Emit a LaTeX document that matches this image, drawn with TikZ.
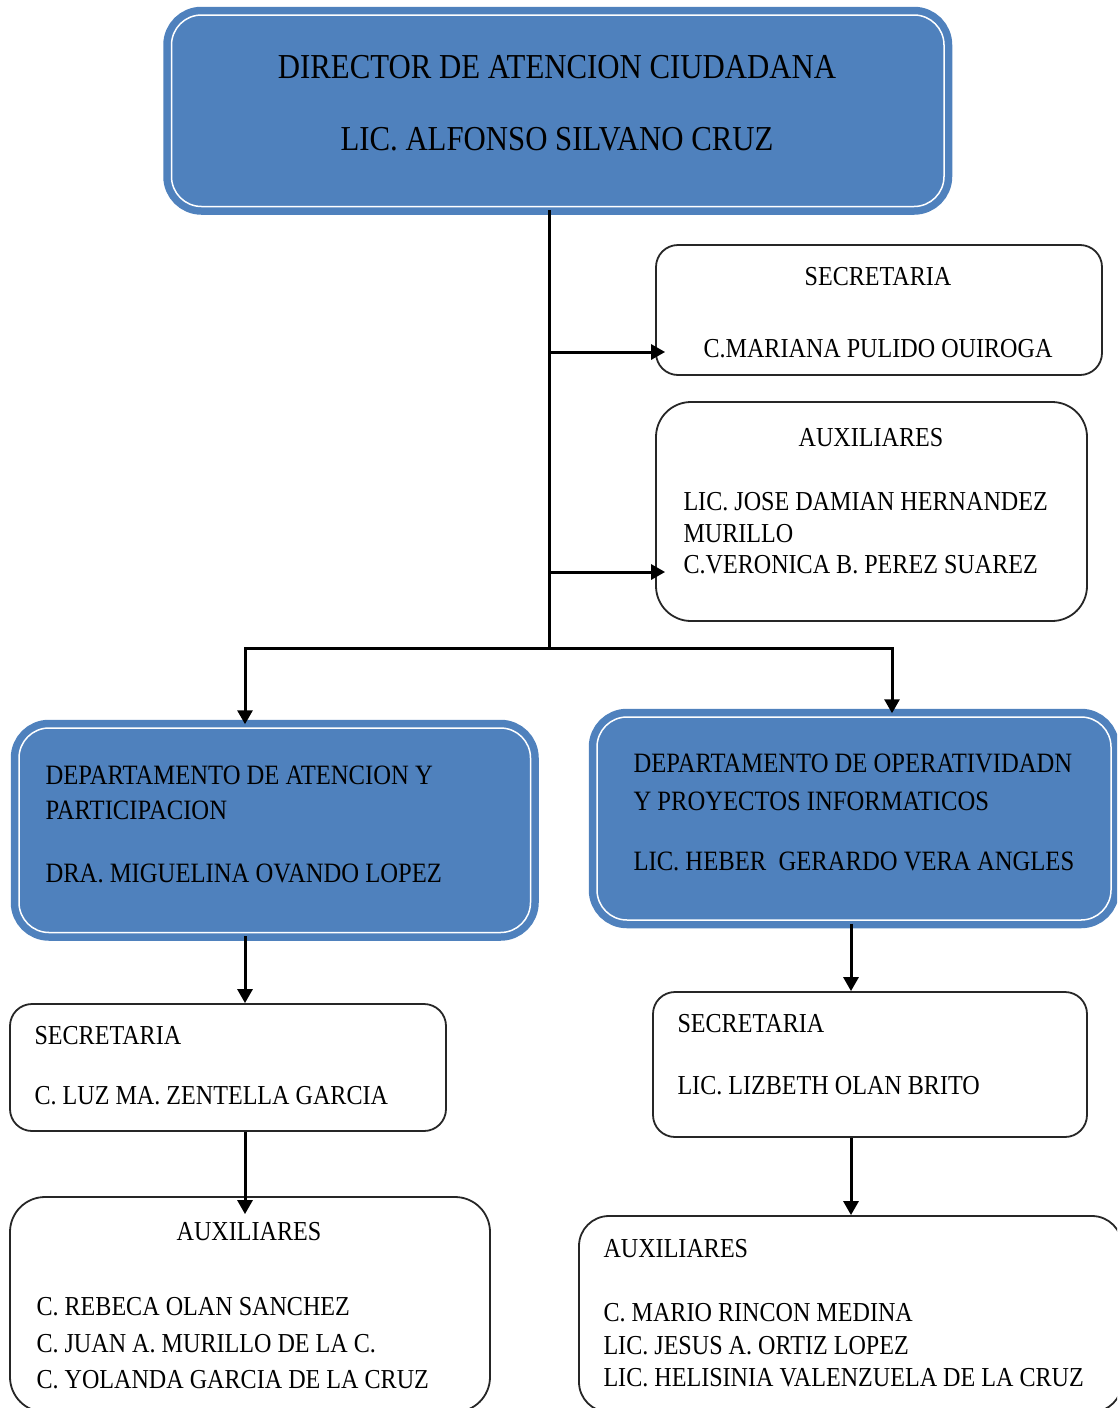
\documentclass[tikz,border=0pt]{standalone}
\usepackage{fontspec}
\setmainfont[FakeStretch=0.88]{Liberation Serif}
\usetikzlibrary{arrows.meta}
\definecolor{boxblue}{RGB}{79,129,189}

\begin{document}
\begin{tikzpicture}
[x=1pt, y=-1pt, line width=3pt,
 blubox/.style={rectangle, rounded corners=30pt, fill=boxblue, draw=boxblue,
   double=white, double distance=1.5pt, line width=7.5pt, inner sep=0pt},
 whtbox/.style={rectangle, rounded corners=22pt, draw=black!85, line width=1.8pt, inner sep=0pt},
 conn/.style={-{Triangle[width=15pt,length=14pt]}, line width=3pt},
 bigtxt/.style={font=\fontsize{35}{36}\selectfont, inner sep=0pt, align=center},
 txt/.style={font=\fontsize{27.4}{31.5}\selectfont, inner sep=0pt, align=left},
 deptxt/.style={font=\fontsize{28}{35}\selectfont, inner sep=0pt, align=left}]
\useasboundingbox (0,0) rectangle (1117,1408);
\clip (0,0) rectangle (1117,1408);
%% boxes
\node[blubox, minimum width=772.5pt, minimum height=191.5pt] (dir) at (557.75,110.75) {}; %% Director
\node[whtbox, minimum width=446pt, minimum height=130pt] (sec)  at (879,310) {};     %% Secretaria
\node[whtbox, rounded corners=35pt, minimum width=431pt, minimum height=219pt] (aux) at (871.5,511.5) {}; %% Auxiliares
\node[blubox, minimum width=511.5pt, minimum height=204.5pt] (depA) at (274.75,830.25) {}; %% Dep. left
\node[blubox, minimum width=514pt, minimum height=203pt] (depB) at (854,818.5) {};   %% Dep. right
\node[whtbox, minimum width=436pt, minimum height=127pt] (secA) at (228,1067.5) {};  %% Sec. left
\node[whtbox, rounded corners=35pt, minimum width=480pt, minimum height=215pt] (auxA) at (250,1304.5) {}; %% Aux. left
\node[whtbox, minimum width=434pt, minimum height=145pt] (secB) at (870,1064.5) {};  %% Sec. right
\node[whtbox, rounded corners=30pt, minimum width=543pt, minimum height=196pt] (auxB) at (850.5,1314) {}; %% Aux. right
%% texts
\node[bigtxt, anchor=north] (dir-t) at (557,54)
  {DIRECTOR DE ATENCION CIUDADANA\\[36pt]LIC. ALFONSO SILVANO CRUZ};
\node[txt, align=center, anchor=north] (sec-t) at (878,266)
  {SECRETARIA\\[40.5pt]C.MARIANA PULIDO OUIROGA};
\node[txt, anchor=north] (aux-h) at (871,427) {AUXILIARES};
\node[txt, anchor=north west] (aux-b) at (682,491)
  {LIC. JOSE DAMIAN HERNANDEZ\\MURILLO\\C.VERONICA B. PEREZ SUAREZ};
\node[deptxt, anchor=north west] (depA-t) at (44,764)
  {DEPARTAMENTO DE ATENCION Y\\PARTICIPACION\\[28pt]DRA. MIGUELINA OVANDO LOPEZ};
\node[deptxt, anchor=north west] (depB-t) at (632,752)
  {DEPARTAMENTO DE OPERATIVIDADN\\[3pt]Y PROYECTOS INFORMATICOS\\[25pt]LIC. HEBER\ \ GERARDO VERA ANGLES};
\node[txt, anchor=north west] (secA-t) at (33,1025)
  {SECRETARIA\\[28.5pt]C. LUZ MA. ZENTELLA GARCIA};
\node[txt, anchor=north] (auxA-h) at (249,1221) {AUXILIARES};
\node[txt, anchor=north west] (auxA-b) at (35,1296)
  {C. REBECA OLAN SANCHEZ\\[5pt]C. JUAN A. MURILLO DE LA C.\\[5pt]C. YOLANDA GARCIA DE LA CRUZ};
\node[txt, anchor=north west] (secB-t) at (676,1013)
  {SECRETARIA\\[30.5pt]LIC. LIZBETH OLAN BRITO};
\node[txt, anchor=north west] (auxB-t) at (602,1238)
  {AUXILIARES\\[32.5pt]C. MARIO RINCON MEDINA\\[1pt]LIC. JESUS A. ORTIZ LOPEZ\\[1pt]LIC. HELISINIA VALENZUELA DE LA CRUZ};
%% connectors
\coordinate (jn) at (549,648); %% junction
\coordinate (jS) at (549,352); %% to secretaria
\coordinate (jX) at (549,572); %% to auxiliares
\coordinate (cA) at (245,648); %% left column
\coordinate (cB) at (892,648); %% right column
\coordinate (dB) at (851,924); %% right lower column
\draw (dir.south -| jn) -- (jn);
\draw[conn, shorten >=-10pt] (jS) -- (jS -| sec.west);
\draw[conn, shorten >=-10pt] (jX) -- (jX -| aux.west);
\draw[conn] (jn) -| (cA |- depA.north);
\draw[conn] (jn) -| (cB |- depB.north);
\draw[conn] (cA |- depA.south) -- (cA |- secA.north);
\draw[conn, shorten >=-18pt] (cA |- secA.south) -- (cA |- auxA.north);
\draw[conn] (dB |- depB.south) -- (dB |- secB.north);
\draw[conn] (dB |- secB.south) -- (dB |- auxB.north);
\end{tikzpicture}
\end{document}
